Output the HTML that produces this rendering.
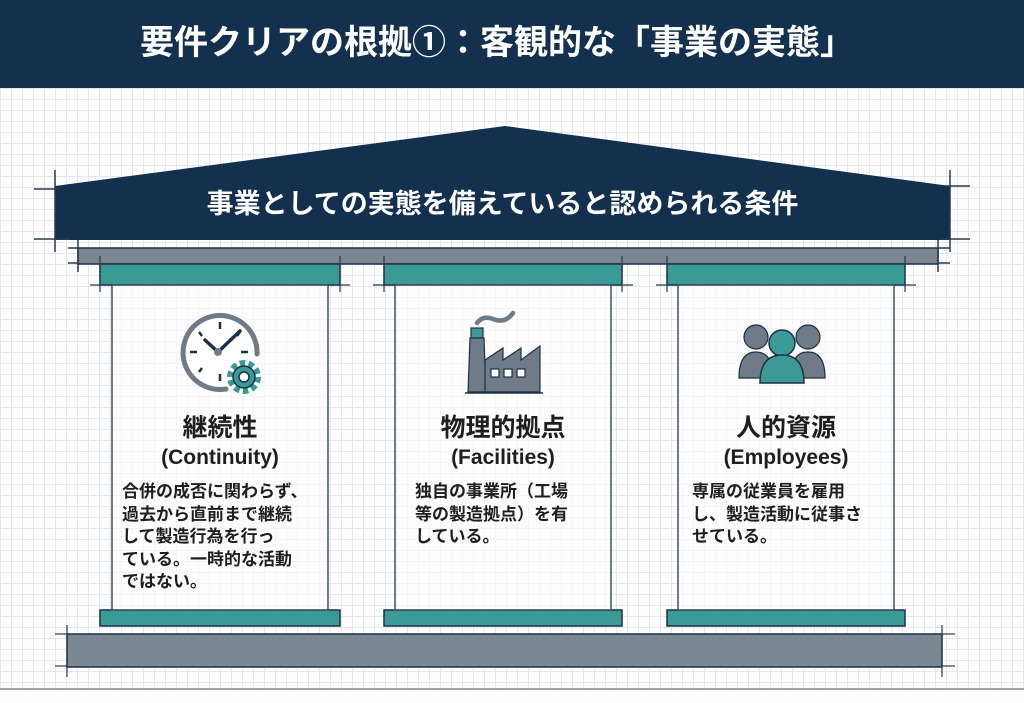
<!DOCTYPE html>
<html><head><meta charset="utf-8">
<style>
*{margin:0;padding:0;box-sizing:border-box}
body{width:1024px;height:703px;overflow:hidden;background:#fdfdfd;font-family:"Liberation Sans","Noto Sans CJK JP",sans-serif;position:relative;
background-image:linear-gradient(#e3e6ea 1px,transparent 1px),linear-gradient(90deg,#e3e6ea 1px,transparent 1px);background-size:11px 11px;}
.abs{position:absolute}
.hdr{left:0;top:0;width:1024px;height:88px;background:#14304f;color:#fff;font-weight:bold;font-size:34px;text-align:center;line-height:86px;padding-right:30px}
.col{position:absolute;text-align:center;color:#1e1e1e}
.t1{font-size:25px;font-weight:bold}
.t2{font-size:21px;font-weight:bold;margin-top:2px}
.bd{font-size:17px;font-weight:bold;text-align:left;line-height:22.5px;margin-top:11px}
</style></head><body>
<div class="abs hdr">要件クリアの根拠①：客観的な「事業の実態」</div>
<svg class="abs" style="left:0;top:0" width="1024" height="703">
<polygon points="55,186 505,126 950,186 950,240 55,240" fill="#14304f"/>
<g stroke="#2a3a4c" stroke-width="1.5" fill="none">
<line x1="34" y1="189" x2="60" y2="189"/><line x1="55" y1="170" x2="55" y2="252"/>
<line x1="34" y1="239" x2="70" y2="239"/>
<line x1="945" y1="186" x2="970" y2="186"/><line x1="950" y1="170" x2="950" y2="252"/>
<line x1="940" y1="239" x2="970" y2="239"/>
</g>
<rect x="78" y="248" width="860" height="16" fill="#7b8793" stroke="#1d3048" stroke-width="1.5"/>
<g stroke="#2a3a4c" stroke-width="1.5">
<line x1="68" y1="248" x2="78" y2="248"/><line x1="68" y1="263" x2="78" y2="263"/><line x1="78" y1="240" x2="78" y2="272"/>
<line x1="938" y1="240" x2="938" y2="272"/><line x1="938" y1="248" x2="950" y2="248"/><line x1="938" y1="263" x2="950" y2="263"/>
</g>
<g stroke="#1d3048" stroke-width="1.5">
<rect x="100" y="264" width="240" height="21" fill="#3a9a96"/>
<rect x="100" y="610" width="240" height="16" fill="#3a9a96"/>
<rect x="384" y="264" width="238" height="21" fill="#3a9a96"/>
<rect x="384" y="610" width="238" height="16" fill="#3a9a96"/>
<rect x="667" y="264" width="238" height="21" fill="#3a9a96"/>
<rect x="667" y="610" width="238" height="16" fill="#3a9a96"/>
</g>
<g fill="#fdfdfd" fill-opacity="0.6" stroke="#3f5166" stroke-width="1.5">
<rect x="112" y="285" width="216" height="325"/>
<rect x="395" y="285" width="216" height="325"/>
<rect x="678" y="285" width="216" height="325"/>
</g>
<g stroke="#2a3a4c" stroke-width="1.2">
<line x1="90" y1="285" x2="112" y2="285"/><line x1="100" y1="256" x2="100" y2="292"/>
<line x1="328" y1="285" x2="350" y2="285"/><line x1="340" y1="256" x2="340" y2="292"/>
<line x1="373" y1="285" x2="395" y2="285"/><line x1="384" y1="256" x2="384" y2="292"/>
<line x1="611" y1="285" x2="633" y2="285"/><line x1="622" y1="256" x2="622" y2="292"/>
<line x1="656" y1="285" x2="678" y2="285"/><line x1="667" y1="256" x2="667" y2="292"/>
<line x1="894" y1="285" x2="916" y2="285"/><line x1="905" y1="256" x2="905" y2="292"/>
</g>
<rect x="67" y="634" width="875" height="33" fill="#7b8793" stroke="#1d3048" stroke-width="1.5"/>
<g stroke="#2a3a4c" stroke-width="1.2">
<line x1="55" y1="634" x2="67" y2="634"/><line x1="55" y1="666" x2="67" y2="666"/><line x1="67" y1="625" x2="67" y2="677"/>
<line x1="942" y1="625" x2="942" y2="677"/><line x1="942" y1="634" x2="955" y2="634"/><line x1="942" y1="666" x2="955" y2="666"/>
</g>
<line x1="0" y1="689" x2="1024" y2="689" stroke="#7b8793" stroke-width="1.5"/>
<rect x="0" y="690" width="1024" height="13" fill="#fdfdfd"/>
<!-- clock icon -->
<circle cx="220" cy="352" r="37" fill="#fff"/>
<path d="M226,389 A37,37 0 1 1 257,354" fill="none" stroke="#6f7c88" stroke-width="5" stroke-linecap="round"/>
<g stroke="#1d3048" stroke-width="2.5">
<line x1="220" y1="322" x2="220" y2="329"/><line x1="190" y1="352" x2="197" y2="352"/><line x1="241" y1="352" x2="248" y2="352"/><line x1="220" y1="374" x2="220" y2="381"/>
<line x1="199" y1="332" x2="202" y2="336"/><line x1="199" y1="372" x2="202" y2="368"/><line x1="240" y1="332" x2="237" y2="336"/>
</g>
<polyline points="205,340 218,352 240,331" fill="none" stroke="#1d3048" stroke-width="3.5" stroke-linejoin="round" stroke-linecap="round"/>
<circle cx="218" cy="352" r="4" fill="#6f7c88"/>
<circle cx="244" cy="377" r="16" fill="#fff"/>
<circle cx="244" cy="377" r="14" fill="none" stroke="#3a9a96" stroke-width="6" stroke-dasharray="5.5 3.3"/>
<circle cx="244" cy="377" r="11" fill="#3a9a96" stroke="#1d3048" stroke-width="1.5"/>
<circle cx="244" cy="377" r="5" fill="#fff" stroke="#1d3048" stroke-width="1.5"/>
<!-- factory -->
<path d="M477,323 q6,-8 16,-4 q12,5 20,-6" fill="none" stroke="#6f7c88" stroke-width="4.5" stroke-linecap="round"/>
<rect x="471" y="328" width="12" height="10" fill="#3a9a96" stroke="#1d3048" stroke-width="1.2"/>
<polygon points="470,338 484,338 486,392 468,392" fill="#6f7c88" stroke="#1d3048" stroke-width="1.2"/>
<polygon points="485,360 503,348 503,360 521,348 521,360 540,346 540,392 485,392" fill="#6f7c88" stroke="#1d3048" stroke-width="1.2"/>
<g fill="#fff" stroke="#1d3048" stroke-width="1.2"><rect x="491" y="369" width="8" height="8"/><rect x="504" y="369" width="8" height="8"/><rect x="517" y="369" width="8" height="8"/></g>
<line x1="465" y1="393" x2="543" y2="393" stroke="#1d3048" stroke-width="1.5"/>
<!-- people -->
<g fill="#6f7c88" stroke="#1d3048" stroke-width="1.2">
<circle cx="756" cy="337" r="12"/><path d="M739,378 q0,-26 17,-26 q17,0 17,26 z"/>
<circle cx="808" cy="337" r="12"/><path d="M791,378 q0,-26 17,-26 q17,0 17,26 z"/>
</g>
<g fill="#3a9a96" stroke="#1d3048" stroke-width="1.5">
<circle cx="782" cy="343" r="13"/><path d="M760,383 q0,-28 22,-28 q22,0 22,28 z"/>
</g>
</svg>
<div class="abs" style="left:55px;top:186px;width:895px;text-align:center;color:#fff;font-size:27px;font-weight:bold;line-height:36px">事業としての実態を備えていると認められる条件</div>
<div class="col" style="left:112px;top:408px;width:216px">
<div class="t1">継続性</div><div class="t2">(Continuity)</div>
<div class="bd" style="padding-left:10px">合併の成否に関わらず、<br>過去から直前まで継続<br>して製造行為を行っ<br>ている。一時的な活動<br>ではない。</div></div>
<div class="col" style="left:395px;top:408px;width:216px">
<div class="t1">物理的拠点</div><div class="t2">(Facilities)</div>
<div class="bd" style="padding-left:20px">独自の事業所（工場<br>等の製造拠点）を有<br>している。</div></div>
<div class="col" style="left:678px;top:408px;width:216px">
<div class="t1">人的資源</div><div class="t2">(Employees)</div>
<div class="bd" style="padding-left:14px">専属の従業員を雇用<br>し、製造活動に従事さ<br>せている。</div></div>
</body></html>
